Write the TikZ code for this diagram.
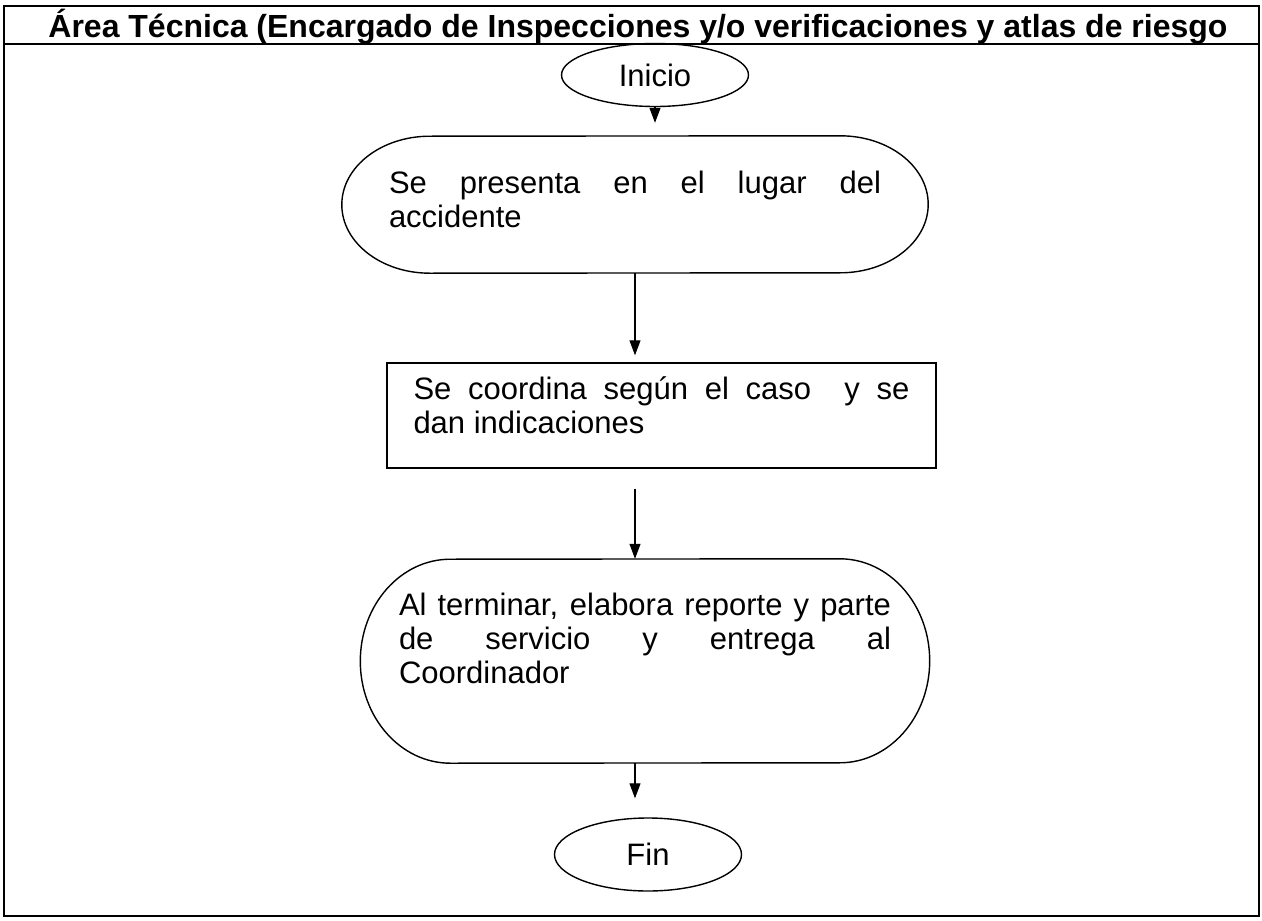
\documentclass[tikz,border=0pt]{standalone}
\usepackage{fontspec}
\setmainfont{Liberation Sans}
\usepackage{tikz}
\usetikzlibrary{arrows.meta,shapes.geometric}
\def\capsula[#1](#2)(#3:#4){\draw[#1] ([xshift=-#3]#2.north east) arc[start angle=90, end angle=-90, x radius=#3, y radius=#4] -- ([xshift=#3]#2.south west) arc[start angle=270, end angle=90, x radius=#3, y radius=#4] -- cycle;}

\begin{document}
\begin{tikzpicture}[x=1pt, y=1pt,
		linea/.style={line width=1.4pt},
		texto/.style={font=\fontsize{31}{34}\selectfont},
		terminal/.style={ellipse, draw, linea, texto, inner sep=0pt, minimum width=187pt, minimum height=63pt},
		paso/.style={texto, text width=492pt, align=justify, inner sep=0pt},
		flecha/.style={line width=1.1pt, -{Triangle[length=15pt, width=11pt]}}]
		%%%%% START %%%%%
		\useasboundingbox (0,0) rectangle (1262,-921);
		\draw[linea] (4,-6) rectangle (1259,-916);
		\draw[linea] (4,-44) -- (1259,-44);
		\node[font=\fontsize{32}{38}\selectfont\bfseries, inner sep=0pt, anchor=base] (titulo) at (638,-37) {Área Técnica (Encargado de Inspecciones y/o verificaciones y atlas de riesgo};
		
		\node[terminal] (inicio) at (655,-75) {Inicio};
		
		\node[paso, minimum width=586pt, minimum height=137pt, text depth=45pt] (presenta) at (635,-204.5) {Se presenta en el lugar del\linebreak accidente};
		\capsula[linea](presenta)(88pt:68.5pt)
		
		\node[paso, draw, linea, minimum width=549pt, minimum height=105pt, text width=496pt, text depth=55pt] (coordina) at (661.5,-415.5) {Se coordina según el caso \ y se\linebreak dan indicaciones};
		
		\node[paso, minimum width=569pt, minimum height=204pt, text depth=114pt] (terminar) at (645,-661) {Al terminar, elabora reporte y parte\linebreak de servicio y entrega al\linebreak Coordinador};
		\capsula[linea](terminar)(90pt:102pt)
		
		\node[terminal, minimum height=73pt] (fin) at (648,-854.5) {Fin};
		
		\draw[flecha, shorten >=13pt] (inicio) -- (inicio |- presenta.north);
		\draw[flecha, shorten >=7pt] (presenta.south) -- (presenta.south |- coordina.north);
		\draw[flecha, shorten <=20pt] (presenta.south |- coordina.south) -- (presenta.south |- terminar.north);
		\draw[flecha, shorten >=19pt] (presenta.south |- terminar.south) -- (presenta.south |- fin.north);
		%%%%% END %%%%%
	\end{tikzpicture}
\end{document}
